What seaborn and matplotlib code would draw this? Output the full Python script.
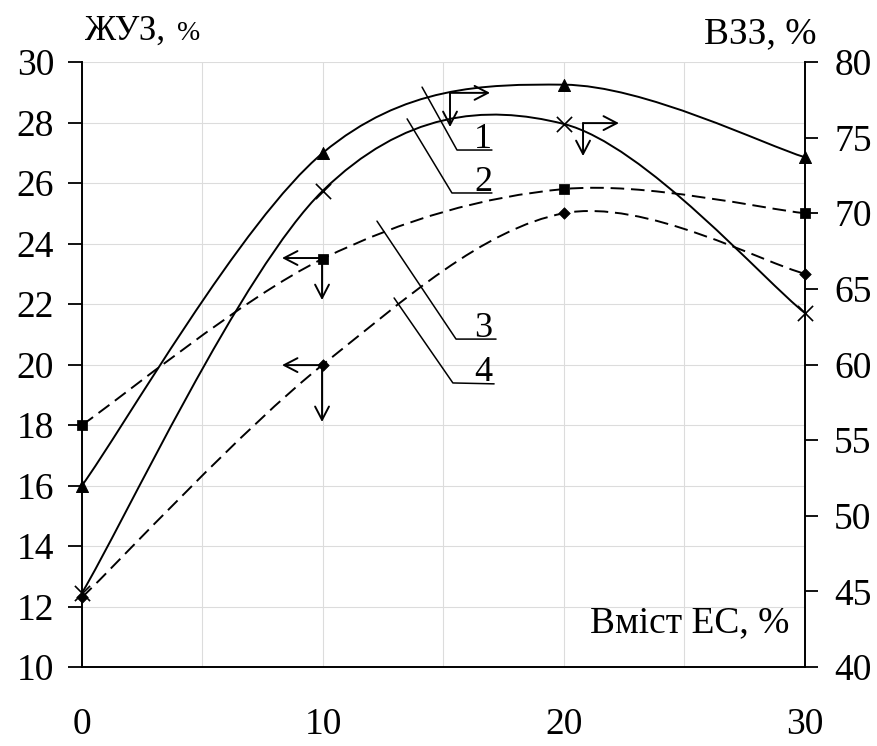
import numpy as np
import pandas as pd
import matplotlib
matplotlib.use('Agg')
import matplotlib.pyplot as plt
import seaborn as sns
from matplotlib.path import Path
from matplotlib.patches import PathPatch

# ---- data ----
ec_content = [0, 10, 20, 30]
vzz_1 = [52.0, 74.0, 78.5, 73.7]    # curve 1, triangles, right axis (ВЗЗ)
vzz_2 = [44.9, 71.5, 75.9, 63.4]    # curve 2, crosses, right axis (ВЗЗ)
zhuz_3 = [18.0, 23.5, 25.8, 25.0]   # curve 3, squares, left axis (ЖУЗ)
zhuz_4 = [12.3, 20.0, 25.0, 23.0]   # curve 4, diamonds, left axis (ЖУЗ)
x_ticks = [0, 10, 20, 30]
left_ticks = [10, 12, 14, 16, 18, 20, 22, 24, 26, 28, 30]
right_ticks = [40, 45, 50, 55, 60, 65, 70, 75, 80]
curve_labels = ['1', '2', '3', '4']

sns.set_style('white')
plt.rcParams['font.family'] = ['Liberation Serif', 'DejaVu Serif']
plt.rcParams['text.color'] = 'black'
plt.rcParams['axes.labelcolor'] = 'black'
plt.rcParams['xtick.color'] = 'black'
plt.rcParams['ytick.color'] = 'black'

W, H = 877, 746
fig = plt.figure(figsize=(W / 100, H / 100), dpi=100)
ax = fig.add_axes([82 / W, 1 - 667 / H, (805 - 82) / W, (667 - 62) / H])
ax2 = ax.twinx()

ax.set_xlim(0, 30)
ax.set_ylim(10, 30)
ax2.set_ylim(40, 80)

# grid
ax.set_xticks(x_ticks)
ax.set_xticks([5, 15, 25], minor=True)
ax.set_yticks(left_ticks)
ax2.set_yticks(right_ticks)
ax.grid(True, which='both', axis='x', color='#dcdcdc', lw=0.8)
ax.grid(True, which='major', axis='y', color='#dcdcdc', lw=0.8)
ax.set_axisbelow(True)

for a in (ax, ax2):
    for s in a.spines.values():
        s.set_visible(False)
ax.spines['left'].set_visible(True)
ax.spines['bottom'].set_visible(True)
ax2.spines['right'].set_visible(True)
for s in (ax.spines['left'], ax.spines['bottom'], ax2.spines['right']):
    s.set_color('black')
    s.set_linewidth(1.4)

ax.tick_params(axis='x', which='major', direction='inout', length=18, width=1.3,
               pad=20, labelsize=27, colors='black')
ax.tick_params(axis='x', which='minor', length=0)
ax.tick_params(axis='y', direction='out', length=10, width=1.3, pad=10,
               labelsize=27, colors='black')
ax2.tick_params(axis='y', direction='out', length=9, width=1.3, pad=12,
                labelsize=27, colors='black')


def smooth_path(xs, ys):
    P = np.column_stack([xs, ys]).astype(float)
    n = len(P)
    verts = [P[0]]
    codes = [Path.MOVETO]
    for i in range(n - 1):
        pm = P[max(i - 1, 0)]
        pn = P[min(i + 2, n - 1)]
        c1 = P[i] + (P[i + 1] - pm) / 6.0
        c2 = P[i + 1] - (pn - P[i]) / 6.0
        verts += [c1, c2, P[i + 1]]
        codes += [Path.CURVE4] * 3
    return Path(verts, codes)


dash = (0, (7, 3.5))
ax2.add_patch(PathPatch(smooth_path(ec_content, vzz_1), fill=False, ec='black', lw=1.4))
ax2.add_patch(PathPatch(smooth_path(ec_content, vzz_2), fill=False, ec='black', lw=1.4))
ax.add_patch(PathPatch(smooth_path(ec_content, zhuz_3), fill=False, ec='black', lw=1.4, ls=dash))
ax.add_patch(PathPatch(smooth_path(ec_content, zhuz_4), fill=False, ec='black', lw=1.4, ls=dash))

df = pd.DataFrame({'x': ec_content, 'v1': vzz_1, 'v2': vzz_2, 'z3': zhuz_3, 'z4': zhuz_4})
sns.scatterplot(data=df, x='x', y='z3', marker='s', s=45, color='black', edgecolor='black',
                ax=ax, zorder=5, clip_on=False)
sns.scatterplot(data=df, x='x', y='z4', marker='D', s=35, color='black', edgecolor='black',
                ax=ax, zorder=5, clip_on=False)
sns.scatterplot(data=df, x='x', y='v1', marker='^', s=75, color='black', edgecolor='black',
                ax=ax2, zorder=5, clip_on=False)
sns.scatterplot(data=df, x='x', y='v2', marker='x', s=120, color='black', linewidth=1.2,
                ax=ax2, zorder=5, clip_on=False)

for a in (ax, ax2):
    a.set_xlabel('')
    a.set_ylabel('')
ax.set_xlim(0, 30)
ax.set_ylim(10, 30)
ax2.set_ylim(40, 80)

# leader lines with curve numbers (left-axis data coordinates)
leaders = [
    ((14.11, 29.17), (15.56, 27.09), (17.01, 27.09)),
    ((13.49, 28.12), (15.35, 25.67), (17.01, 25.67)),
    ((12.24, 24.74), (15.52, 20.84), (17.18, 20.84)),
    ((12.95, 22.20), (15.39, 19.39), (17.10, 19.36)),
]
for lab, (p0, p1, p2) in zip(curve_labels, leaders):
    ax.plot([p0[0], p1[0], p2[0]], [p0[1], p1[1], p2[1]], color='black', lw=1.1,
            zorder=4, clip_on=False)
    ax.text(16.65, p2[1] + 0.08, lab, fontsize=26, ha='center', va='baseline', zorder=6)

# axis-selection arrows
arrowkw = dict(arrowstyle='->,head_length=0.48,head_width=0.25', color='black', lw=1.4,
               shrinkA=0, shrinkB=0, mutation_scale=20)
arrows = [
    ((15.27, 28.98), (16.93, 28.98), (15.27, 27.85)),
    ((20.79, 27.98), (22.28, 27.98), (20.79, 26.89)),
    ((9.96, 23.52), (8.30, 23.52), (9.96, 22.13)),
    ((9.96, 19.98), (8.30, 19.98), (9.96, 18.10)),
]
for corner, horiz, vert in arrows:
    ax.annotate('', xy=horiz, xytext=corner, arrowprops=arrowkw, zorder=6)
    ax.annotate('', xy=vert, xytext=corner, arrowprops=arrowkw, zorder=6)

# axis titles
fig.text(85 / W, 1 - 40 / H, 'ЖУЗ,', fontsize=25, ha='left', va='baseline', color='black')
fig.text(177 / W, 1 - 40 / H, '%', fontsize=20, ha='left', va='baseline', color='black')
fig.text(817 / W, 1 - 43 / H, 'ВЗЗ, %', fontsize=27, ha='right', va='baseline', color='black')
fig.text(789 / W, 1 - 632 / H, 'Вміст ЕС, %', fontsize=27, ha='right', va='baseline',
         color='black')

fig.savefig('out.png', dpi=100)
